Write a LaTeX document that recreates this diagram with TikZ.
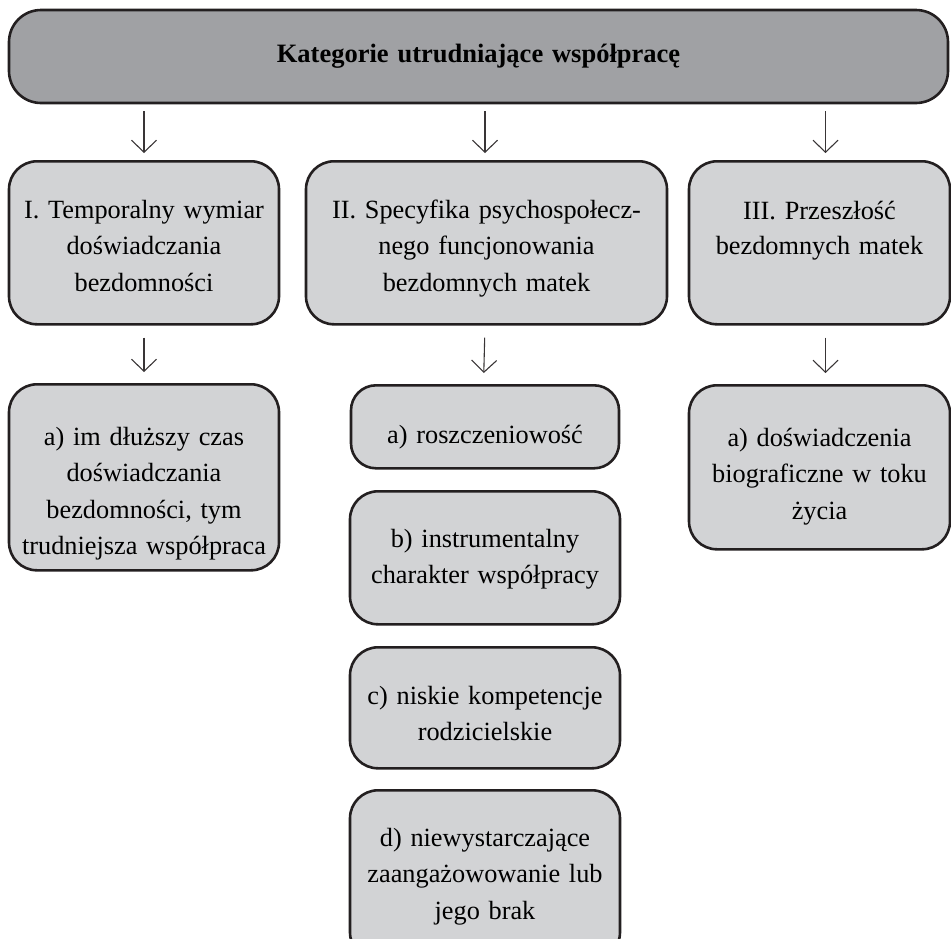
\documentclass[tikz,border=0pt]{standalone}
\usepackage{fontspec}
\setmainfont{Liberation Serif}
\usetikzlibrary{arrows.meta}

\definecolor{boxline}{HTML}{231F20}
\definecolor{headfill}{HTML}{A0A1A4}
\definecolor{boxfill}{HTML}{D2D3D5}

\tikzset{
  catbox/.style={draw=boxline, fill=boxfill, line width=2.6pt, rounded corners=28pt,
    align=center, inner xsep=1pt, inner ysep=0pt, anchor=north,
    font=\fontsize{26.3}{36.5}\selectfont},
  downarrow/.style={draw=boxline!90, line width=1.1pt,
    -{Straight Barb[length=12pt,width=25pt]}},
}

\begin{document}
\begin{tikzpicture}[x=1pt,y=-1pt]
	\clip (0,0) rectangle (951,938);

	% Header
	\node[catbox, fill=headfill, rounded corners=32pt, anchor=center,
		text width=937pt, minimum height=93pt,
		font=\fontsize{26.5}{30}\selectfont\bfseries]
		(head) at (478.5,56.5) {Kategorie utrudniające współpracę};

	% Main categories
	\node[catbox, text width=268pt, text height=57pt, text depth=106pt]
		(temp) at (144,160) {I. Temporalny wymiar\\doświadczania\\bezdomności};
	\node[catbox, text width=359pt, text height=57pt, text depth=106pt]
		(spec) at (486.5,160) {II. Specyfika psychospołecz-\\nego funcjonowania\\bezdomnych matek};
	\node[catbox, text width=259pt, text height=58pt, text depth=105pt]
		(past) at (819.5,160) {III. Przeszłość\\[-1pt]bezdomnych matek};

	% Subcategories
	\node[catbox, text width=268pt, text height=61pt, text depth=125pt]
		(tempA) at (144,383) {a) im dłuższy czas\\doświadczania\\bezdomności, tym\\trudniejsza współpraca};

	\node[catbox, rounded corners=25pt, text width=266pt, text height=58pt, text depth=25pt]
		(specA) at (485,384) {a) roszczeniowość};
	\node[catbox, text width=268pt, text height=56pt, text depth=77pt]
		(specB) at (485,490) {b) instrumentalny\\charakter współpracy};
	\node[catbox, text width=268pt, text height=57pt, text depth=64pt]
		(specC) at (485,646) {c) niskie kompetencje\\rodzicielskie};
	\node[catbox, text width=268pt, text height=56pt, text depth=114pt]
		(specD) at (485,789) {d) niewystarczające\\zaangażowowanie lub\\jego brak};

	\node[catbox, text width=259pt, text height=61pt, text depth=103pt]
		(pastA) at (819.5,384) {a) doświadczenia\\biograficzne w toku\\życia};

	% Arrows
	\foreach \cat/\dx in {temp/0,spec/-1.5,past/6}
		\draw[downarrow, shorten <=7pt, shorten >=7pt]
			([xshift=\dx pt]head.south -| \cat.north) -- ([xshift=\dx pt]\cat.north);
	\foreach \cat/\sub/\dx in {temp/tempA/0,spec/specA/-1.5,past/pastA/6}
		\draw[downarrow, shorten <=12pt, shorten >=11pt]
			([xshift=\dx pt]\cat.south) -- ([xshift=\dx pt]\sub.north);
\end{tikzpicture}
\end{document}
